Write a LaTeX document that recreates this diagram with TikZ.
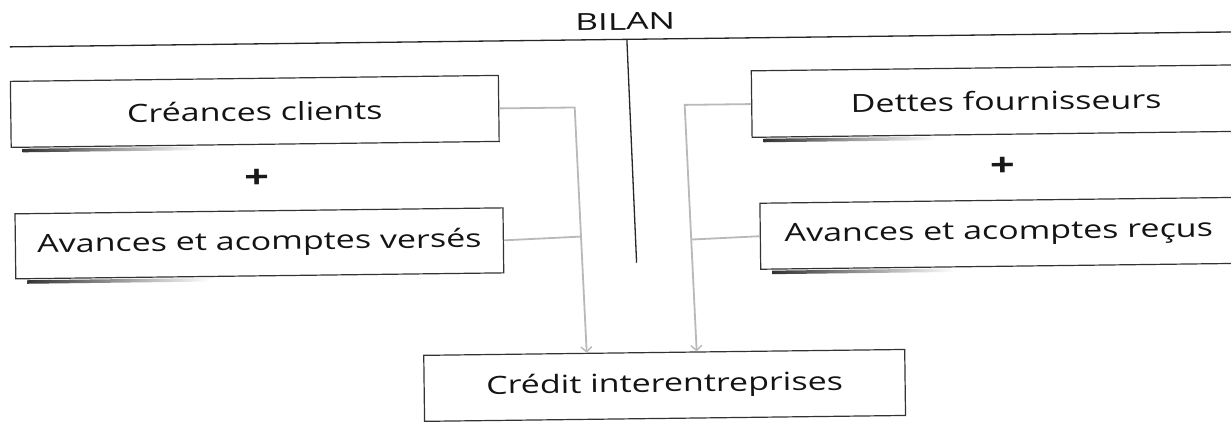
\documentclass[tikz,border=0pt]{standalone}
\usepackage{fontspec}
\setmainfont{Open Sans}[FakeStretch=1.36]
\newfontfamily\titlefont{Open Sans}[FakeStretch=1.5]
\usetikzlibrary{arrows.meta,calc}
\begin{document}
\begin{tikzpicture}[x=1pt,y=-1pt,
  box/.style={draw=black!80, line width=1.2pt, fill=white, inner sep=0pt,
    font=\fontsize{25}{30}\selectfont, text=black!92},
  conn/.style={draw=gray!55, line width=1.8pt},
  arr/.style={conn, -{Straight Barb[length=5pt,width=11pt,line width=1.4pt]}},
  rulel/.style={draw=black!85, line width=1.3pt},
  plus/.style={font=\fontsize{32}{32}\selectfont\bfseries, text=black!90},
  shadowbar/.style={left color=black!80, right color=white},
]
\useasboundingbox (0,0) rectangle (1231,423);
\fill[white] (0,0) rectangle (1231,423);
\clip (0,0) rectangle (1231,423);
\begin{scope}[rotate around={0.7:(615,211)}, transform shape]
  % title and the two rules of the balance sheet
  \node[font=\titlefont\fontsize{23.5}{28}\selectfont, text=black!92] (bilan) at (627.5,21.6) {BILAN};
  \coordinate (hl) at (12,39.5);
  \coordinate (hr) at (1245,39.5);
  \draw[rulel] (hl) -- (hr);
  \coordinate (vt) at (629,39.5);
  \coordinate (vb) at (636,263);
  \draw[rulel] (vt) -- (vb);

  % asset side
  \node[box, minimum width=488pt, minimum height=66pt] (cc) at (256,107) {Créances clients};
  \node[plus] (p1) at (257,174) {+};
  \node[box, minimum width=488pt, minimum height=65pt] (vs) at (259,239) {Avances et acomptes versés};

  % liability side (boxes run past the right edge)
  \node[box, minimum width=509pt, minimum height=66.5pt] (df) at (1007.5,105.75) {Dettes fournisseurs};
  \node[plus] (p2) at (1003,172) {+};
  \node[box, minimum width=477pt, minimum height=66pt] (ar) at (998.5,238) {Avances et acomptes reçus};

  % result
  \node[box, minimum width=481pt, minimum height=66pt] (cr) at (662.5,386) {Crédit interentreprises};

  % shadows under the boxes
  \shade[shadowbar] ($(cc.south west)+(12,1)$) rectangle ($(cc.south west)+(190,4.5)$);
  \shade[shadowbar] ($(vs.south west)+(12,1)$) rectangle ($(vs.south west)+(195,4.5)$);
  \shade[shadowbar] ($(df.south west)+(12,1)$) rectangle ($(df.south west)+(185,4.5)$);
  \shade[shadowbar] ($(ar.south west)+(12,1)$) rectangle ($(ar.south west)+(195,4.5)$);

  % connectors
  \coordinate (l1) at (576,106.5);
  \coordinate (l2) at (585,353);
  \coordinate (r1) at (686,106);
  \coordinate (r2) at (695,353);
  \draw[arr] (cc.east) -- (cc.east -| l1) -- (l2 |- cr.north);
  \draw[conn] (vs.east) -- ($(l1)!(vs.east)!(l2)$);
  \draw[arr] (df.west) -- (df.west -| r1) -- (r2 |- cr.north);
  \draw[conn] (ar.west) -- ($(r1)!(ar.west)!(r2)$);
\end{scope}
\end{tikzpicture}
\end{document}
